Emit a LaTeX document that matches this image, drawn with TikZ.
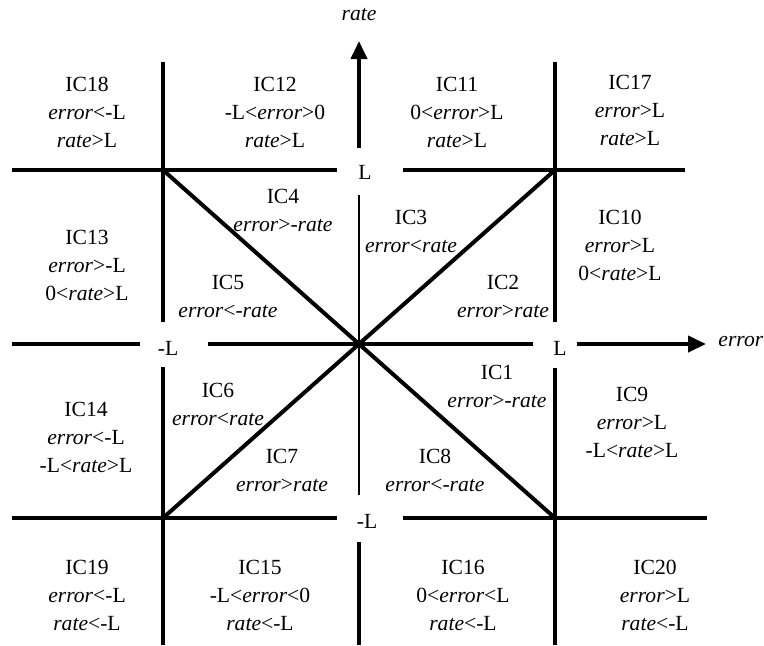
\documentclass[tikz,border=0pt]{standalone}
\usepackage{fontspec}
\setmainfont{Liberation Serif}
\usetikzlibrary{arrows.meta}
\newcommand\errt{\textit{error}}
\newcommand\ratet{\textit{rate}}
\begin{document}
\begin{tikzpicture}[x=0.5pt,y=-0.5pt,
  thk/.style={line width=2pt},
  thn/.style={line width=0.6pt},
  arr/.style={thk,-{Triangle[length=9pt,width=8pt]}},
  lbl/.style={align=center,font=\fontsize{10.8}{14}\selectfont,inner sep=0pt},
  tick/.style={font=\fontsize{10.8}{14}\selectfont,inner sep=0pt}]
\useasboundingbox (0,0) rectangle (764,645);
% corner points
\coordinate (TL) at (163,170);
\coordinate (TR) at (555,170);
\coordinate (BL) at (163,518);
\coordinate (BR) at (555,518);
\coordinate (O) at (359,344);
% tick labels
\node[tick] (Ltop) at (365,172) {L};
\node[tick] (Lleft) at (168,348) {-L};
\node[tick] (Lright) at (560,348) {L};
\node[tick] (Lbot) at (367,521) {-L};
\node[tick,font=\fontsize{10.8}{14}\selectfont\itshape] (ratelab) at (359,15) {rate};
\node[tick,font=\fontsize{10.8}{14}\selectfont\itshape,anchor=west] (errlab) at (718,341) {error};
% line end points
\coordinate (h1a) at (12,170);  \coordinate (h1b) at (337,170);
\coordinate (h1c) at (403,170); \coordinate (h1d) at (685,170);
\coordinate (h2a) at (12,518);  \coordinate (h2b) at (337,518);
\coordinate (h2c) at (403,518); \coordinate (h2d) at (707,518);
\coordinate (v1a) at (163,62);  \coordinate (v1b) at (163,322);
\coordinate (v1c) at (163,367); \coordinate (v1d) at (163,645);
\coordinate (v2a) at (555,62);  \coordinate (v2b) at (555,322);
\coordinate (v2c) at (555,368); \coordinate (v2d) at (555,645);
\coordinate (ea) at (12,344);   \coordinate (eb) at (140,344);
\coordinate (ec) at (208,344);  \coordinate (ed) at (533,344);
\coordinate (ee) at (577,344);  \coordinate (ef) at (706,344);
\coordinate (ra) at (359,148);  \coordinate (rb) at (359,41);
\coordinate (rc) at (359,195);  \coordinate (rd) at (359,495);
\coordinate (re) at (359,542);  \coordinate (rf) at (359,645);
% grid lines
\draw[thk] (h1a) -- (h1b) (h1c) -- (h1d);
\draw[thk] (h2a) -- (h2b) (h2c) -- (h2d);
\draw[thk] (v1a) -- (v1b) (v1c) -- (v1d);
\draw[thk] (v2a) -- (v2b) (v2c) -- (v2d);
% axes
\draw[thk] (ea) -- (eb) (ec) -- (ed);
\draw[arr] (ee) -- (ef);
\draw[arr] (ra) -- (rb);
\draw[thn] (rc) -- (rd);
\draw[thk] (re) -- (rf);
% diagonals
\draw[thk] (TL) -- (BR);
\draw[thk] (TR) -- (BL);
% region labels
\node[lbl] (ic18) at (87,112) {IC18\\ \errt<-L\\ \ratet>L};
\node[lbl] (ic12) at (275,112) {IC12\\ -L<\errt>0\\ \ratet>L};
\node[lbl] (ic11) at (457,112) {IC11\\ 0<\errt>L\\ \ratet>L};
\node[lbl] (ic17) at (630,110) {IC17\\ \errt>L\\ \ratet>L};
\node[lbl] (ic4) at (283,210) {IC4\\ \errt>-\ratet};
\node[lbl] (ic3) at (411,231) {IC3\\ \errt<\ratet};
\node[lbl] (ic5) at (228,296) {IC5\\ \errt<-\ratet};
\node[lbl] (ic2) at (503,296) {IC2\\ \errt>\ratet};
\node[lbl] (ic13) at (87,265) {IC13\\ \errt>-L\\ 0<\ratet>L};
\node[lbl] (ic10) at (620,245) {IC10\\ \errt>L\\ 0<\ratet>L};
\node[lbl] (ic6) at (218,404) {IC6\\ \errt<\ratet};
\node[lbl] (ic14) at (86,437) {IC14\\ \errt<-L\\ -L<\ratet>L};
\node[lbl] (ic7) at (282,470) {IC7\\ \errt>\ratet};
\node[lbl] (ic1) at (497,386) {IC1\\ \errt>-\ratet};
\node[lbl] (ic8) at (435,470) {IC8\\ \errt<-\ratet};
\node[lbl] (ic9) at (632,422) {IC9\\ \errt>L\\ -L<\ratet>L};
\node[lbl] (ic19) at (87,595) {IC19\\ \errt<-L\\ \ratet<-L};
\node[lbl] (ic15) at (260,595) {IC15\\ -L<\errt<0\\ \ratet<-L};
\node[lbl] (ic16) at (463,595) {IC16\\ 0<\errt<L\\ \ratet<-L};
\node[lbl] (ic20) at (655,595) {IC20\\ \errt>L\\ \ratet<-L};
\end{tikzpicture}
\end{document}
